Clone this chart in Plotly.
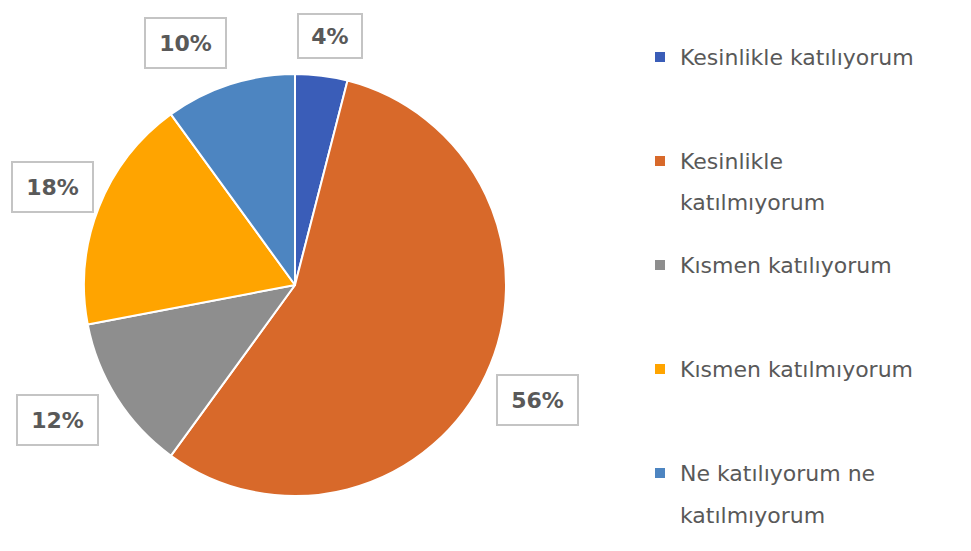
import math
import plotly.graph_objects as go

categories = ["Kesinlikle katılıyorum", "Kesinlikle katılmıyorum", "Kısmen katılıyorum",
              "Kısmen katılmıyorum", "Ne katılıyorum ne katılmıyorum"]
values = [4, 56, 12, 18, 10]
legend_lines = [["Kesinlikle katılıyorum"], ["Kesinlikle", "katılmıyorum"], ["Kısmen katılıyorum"],
                ["Kısmen katılmıyorum"], ["Ne katılıyorum ne", "katılmıyorum"]]
colors = ["#3A5DB8", "#D8692A", "#8E8E8E", "#FFA400", "#4D85C1"]

# label placement (layout only): distance from centre in px and angle nudge in degrees
label_r = [251, 268, 273, 262, 265]
label_nudge = [0.8, 0.2, 2.7, 0.4, -6.3]

W, H = 971, 551
OFF = 8  # default page body margin
cx, cy, R = 295 - OFF, 285 - OFF, 211
FONT = "DejaVu Sans"
TXT = "#595959"


def px2x(px):
    return px / W


def py2y(py):
    return 1 - py / H


fig = go.Figure(go.Pie(
    labels=categories, values=values, sort=False, direction="clockwise", rotation=0,
    marker=dict(colors=colors, line=dict(color="white", width=2)),
    textinfo="none", showlegend=False, hoverinfo="label+percent",
    domain=dict(x=[px2x(cx - R), px2x(cx + R)], y=[py2y(cy + R), py2y(cy - R)]),
))

annotations = []
shapes = []
total = sum(values)
cum = 0
for i, v in enumerate(values):
    mid = (cum + v / 2) / total * 360 + label_nudge[i]
    cum += v
    a = math.radians(mid)
    px = cx + label_r[i] * math.sin(a)
    py = cy - label_r[i] * math.cos(a)
    txt = f"{round(v / total * 100)}%"
    annotations.append(dict(
        x=px2x(px), y=py2y(py), xref="paper", yref="paper", showarrow=False,
        xanchor="center", yanchor="middle",
        text=f"<b>{txt}</b>", font=dict(family=FONT, size=22, color=TXT),
        width=17 * len(txt) + 12, height=32 if len(txt) > 2 else 26,
        bgcolor="white", bordercolor="#C4C4C4", borderwidth=2, borderpad=8,
    ))

y0, step, line_h = 57 - OFF, 104, 42
mx, tx, ms = 660 - OFF, 678 - OFF, 10
for i, lines in enumerate(legend_lines):
    yc = y0 + step * i
    shapes.append(dict(type="rect", xref="paper", yref="paper",
                       x0=px2x(mx - ms / 2), x1=px2x(mx + ms / 2),
                       y0=py2y(yc + ms / 2), y1=py2y(yc - ms / 2),
                       fillcolor=colors[i], line=dict(width=0)))
    for j, ln in enumerate(lines):
        annotations.append(dict(
            x=px2x(tx), y=py2y(yc + line_h * j), xref="paper", yref="paper",
            xanchor="left", yanchor="middle", showarrow=False, text=ln,
            font=dict(family=FONT, size=22, color=TXT),
        ))

fig.update_layout(
    width=W, height=H, margin=dict(l=0, r=0, t=0, b=0),
    paper_bgcolor="white", plot_bgcolor="white",
    annotations=annotations, shapes=shapes,
)
fig.write_html("out.html")
